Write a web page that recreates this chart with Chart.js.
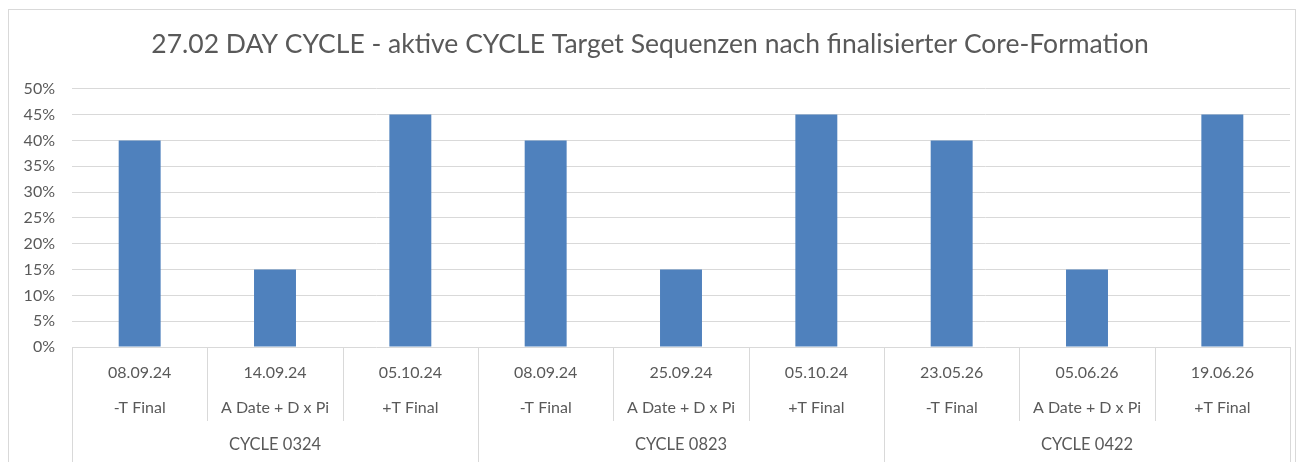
<!DOCTYPE html>
<html>
<head>
<meta charset="utf-8">
<script src="https://cdn.jsdelivr.net/npm/chart.js@4"></script>
<style>
  html,body{margin:0;padding:0;background:#fff;}
  #wrap{width:1303px;height:462px;}
</style>
</head>
<body>
<div id="wrap"><canvas id="cycleChart" width="1303" height="462"></canvas></div>
<script>
// chart data
const dates  = ['08.09.24','14.09.24','05.10.24','08.09.24','25.09.24','05.10.24','23.05.26','05.06.26','19.06.26'];
const phases = ['-T Final','A Date + D x Pi','+T Final','-T Final','A Date + D x Pi','+T Final','-T Final','A Date + D x Pi','+T Final'];
const cycles = ['CYCLE 0324','CYCLE 0823','CYCLE 0422'];
const values = [0.40,0.15,0.45,0.40,0.15,0.45,0.40,0.15,0.45];
const yTicks = [0,0.05,0.10,0.15,0.20,0.25,0.30,0.35,0.40,0.45,0.50];

const FONT = 'Lato, "Open Sans", sans-serif';
const TXT = '#595959', GRID = '#d9d9d9';

// draws the border plus the 3-row category axis
const multiAxis = {
  id:'multiAxis',
  afterDraw(chart){
    const ctx=chart.ctx, a=chart.chartArea, xs=chart.scales.x;
    const n=dates.length, w=(a.right-a.left)/n;
    ctx.save();
    ctx.strokeStyle=GRID; ctx.lineWidth=1;
    ctx.strokeRect(8.5,9.5,1287,470);
    for(let i=0;i<=n;i++){
      const x=Math.round(a.left+i*w)+0.5;
      const grp=(i%3===0);
      ctx.beginPath(); ctx.moveTo(x,a.bottom); ctx.lineTo(x,grp?462:421); ctx.stroke();
    }
    ctx.fillStyle=TXT; ctx.textAlign='center'; ctx.textBaseline='middle';
    ctx.font='16px '+FONT;
    for(let i=0;i<n;i++){
      const cx=xs.getPixelForValue(i);
      ctx.fillText(dates[i],cx,373);
      ctx.fillText(phases[i],cx,408);
    }
    ctx.font='16.5px '+FONT;
    cycles.forEach((c,g)=>{
      const cx=(xs.getPixelForValue(g*3)+xs.getPixelForValue(g*3+2))/2;
      ctx.fillText(c,cx,445);
    });
    ctx.restore();
  }
};

new Chart(document.getElementById('cycleChart').getContext('2d'),{
  type:'bar',
  data:{labels:dates.map((d,i)=>i),datasets:[{data:values,backgroundColor:'#4f81bd',categoryPercentage:1,barPercentage:0.31}]},
  options:{
    responsive:false, animation:false,
    layout:{padding:{left:10,right:13,top:0,bottom:0}},
    plugins:{
      legend:{display:false}, tooltip:{enabled:false},
      title:{display:true,text:'27.02 DAY CYCLE - aktive CYCLE Target Sequenzen nach finalisierter Core-Formation',
        color:TXT,font:{family:FONT,size:26.5,weight:'normal'},padding:{top:29,bottom:28}}
    },
    scales:{
      x:{grid:{display:false},border:{display:false},ticks:{display:false},afterFit:s=>{s.height=115;}},
      y:{min:0,max:0.5,afterBuildTicks:s=>{s.ticks=yTicks.map(v=>({value:v}));},
        grid:{color:GRID,drawTicks:false},border:{display:false},
        ticks:{color:TXT,padding:17,font:{family:FONT,size:16},callback:v=>Math.round(v*100)+'%'},
        afterFit:s=>{s.width=62;}}
    }
  },
  plugins:[multiAxis]
});
</script>
</body>
</html>
